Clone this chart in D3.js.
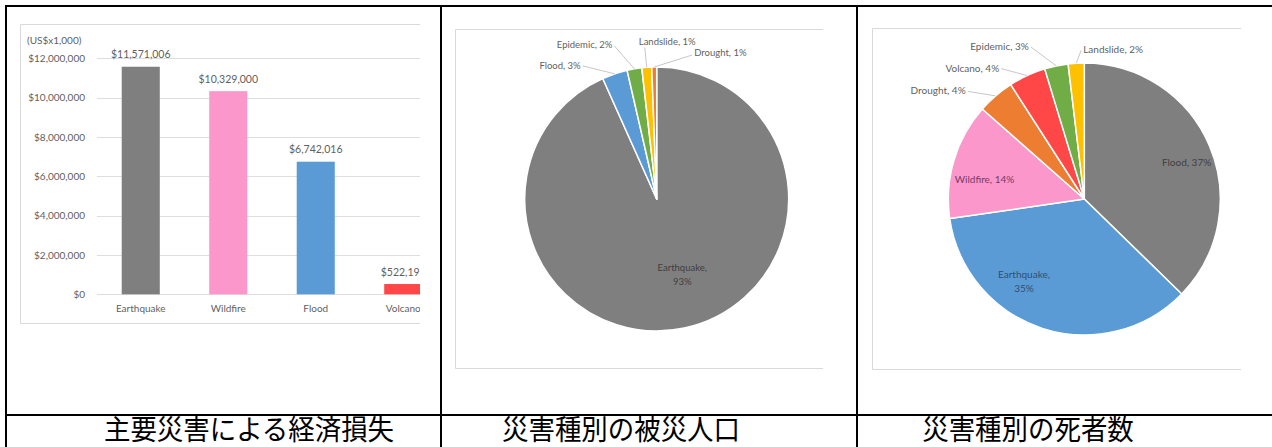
<!DOCTYPE html>
<html><head><meta charset="utf-8">
<script src="https://cdn.jsdelivr.net/npm/d3@7"></script>
<style>body{margin:0;background:#fff;} svg{display:block;}</style>
</head><body>
<svg id="c" width="1272" height="447"></svg>
<script>
// ---------- DATA ----------
const lossCategories = ["Earthquake", "Wildfire", "Flood", "Volcano"];
const lossValues = [11571006, 10329000, 6742016, 522195];
const lossTicks = [0, 2000000, 4000000, 6000000, 8000000, 10000000, 12000000];
const lossUnit = "(US$x1,000)";

const affectedCategories = ["Earthquake", "Flood", "Epidemic", "Landslide", "Drought"];
const affectedValues = [93.3, 3.1, 1.8, 1.2, 0.6];

const deathCategories = ["Flood", "Earthquake", "Wildfire", "Drought", "Volcano", "Epidemic", "Landslide"];
const deathValues = [37.3, 35.4, 13.8, 4.4, 4.4, 2.8, 1.9];

const captions = ["主要災害による経済損失", "災害種別の被災人口", "災害種別の死者数"];

// ---------- STYLE ----------
const colorOf = {
  Earthquake: "#7f7f7f", Wildfire: "#fb97cb", Flood: "#5b9bd5", Volcano: "#ff4747",
  Epidemic: "#70ad47", Landslide: "#ffc000", Drought: "#ed7d31"
};
const pieColors1 = {Earthquake: "#7f7f7f", Flood: "#5b9bd5", Epidemic: "#70ad47", Landslide: "#ffc000", Drought: "#ed7d31"};
const pieColors2 = {Flood: "#7f7f7f", Earthquake: "#5b9bd5", Wildfire: "#fb97cb", Drought: "#ed7d31", Volcano: "#ff4747", Epidemic: "#70ad47", Landslide: "#ffc000"};
const txt = "#5f5f5f";
const font = "Lato, 'Open Sans', sans-serif";

const svg = d3.select("#c");
const defs = svg.append("defs");

// ---------- TABLE ----------
const tbl = svg.append("g").attr("stroke", "#000").attr("stroke-width", 2);
tbl.append("line").attr("x1", 5).attr("x2", 1272).attr("y1", 6).attr("y2", 6);
tbl.append("line").attr("x1", 6).attr("x2", 6).attr("y1", 5).attr("y2", 447);
tbl.append("line").attr("x1", 441).attr("x2", 441).attr("y1", 5).attr("y2", 447);
tbl.append("line").attr("x1", 857).attr("x2", 857).attr("y1", 5).attr("y2", 447);
tbl.append("line").attr("x1", 5).attr("x2", 1272).attr("y1", 415).attr("y2", 415);

const capX = [249, 621, 1028];
svg.selectAll("text.cap").data(captions).join("text")
  .attr("class", "cap")
  .attr("transform", (d, i) => `translate(${capX[i]},440) scale(0.98,1.04)`)
  .attr("text-anchor", "middle")
  .attr("font-family", "'Noto Sans CJK JP', sans-serif")
  .attr("font-size", 27).attr("fill", "#000")
  .text(d => d);

// ---------- FRAME helper (right side cropped) ----------
function frame(x0, y0, x1, y1) {
  const g = svg.append("g").attr("stroke", "#d9d9d9").attr("fill", "none").attr("stroke-width", 1);
  g.append("path").attr("d", `M${x1},${y0}H${x0}V${y1}H${x1}`);
}

// ---------- BAR CHART ----------
(function () {
  frame(20.5, 24.5, 420, 323.5);
  defs.append("clipPath").attr("id", "clipBar").append("rect")
    .attr("x", 0).attr("y", 0).attr("width", 420).attr("height", 447);
  const g = svg.append("g").attr("clip-path", "url(#clipBar)").attr("font-family", font);

  const y = d3.scaleLinear().domain([0, 12000000]).range([294.3, 58.3]);
  const x = d3.scaleBand().domain(lossCategories).range([97, 447])
    .paddingInner(0.565).paddingOuter(0.2825);
  const fmt = d3.format("$,");

  g.append("g").selectAll("line").data(lossTicks).join("line")
    .attr("x1", 97).attr("x2", 447)
    .attr("y1", d => Math.round(y(d)) + 0.5).attr("y2", d => Math.round(y(d)) + 0.5)
    .attr("stroke", "#dedede").attr("stroke-width", 1);

  const ax = g.append("g").attr("transform", "translate(89,0)")
    .call(d3.axisLeft(y).tickValues(lossTicks).tickFormat(fmt).tickSize(0).tickPadding(4));
  ax.select(".domain").remove();
  ax.selectAll("text").attr("font-family", font).attr("font-size", 10).attr("fill", txt);

  g.append("text").attr("x", 27).attr("y", 44).attr("font-size", 10).attr("fill", txt).text(lossUnit);

  g.selectAll("rect.bar").data(lossCategories).join("rect")
    .attr("class", "bar")
    .attr("x", d => x(d)).attr("width", x.bandwidth())
    .attr("y", (d, i) => y(lossValues[i]))
    .attr("height", (d, i) => y(0) - y(lossValues[i]))
    .attr("fill", d => colorOf[d]);

  g.selectAll("text.val").data(lossCategories).join("text")
    .attr("class", "val")
    .attr("x", d => x(d) + x.bandwidth() / 2)
    .attr("y", (d, i) => y(lossValues[i]) - 8.5)
    .attr("text-anchor", "middle").attr("font-size", 10.5).attr("fill", txt)
    .text((d, i) => fmt(lossValues[i]));

  const xa = g.append("g").attr("transform", `translate(0,${y(0)})`)
    .call(d3.axisBottom(x).tickSize(0).tickPadding(11));
  xa.select(".domain").remove();
  xa.selectAll("text").attr("font-family", font).attr("font-size", 10).attr("fill", txt);
})();

// ---------- PIE helper ----------
function drawPie(opts) {
  const {cats, vals, colors, cx, cy, r, clipX, inside, outside, fs} = opts;
  const id = "clip" + Math.round(cx);
  defs.append("clipPath").attr("id", id).append("rect")
    .attr("x", 0).attr("y", 0).attr("width", clipX).attr("height", 447);
  const outer = svg.append("g").attr("clip-path", `url(#${id})`);
  const g = outer.append("g")
    .attr("transform", `translate(${cx},${cy})`).attr("font-family", font);
  const pie = d3.pie().sort(null).value(d => d);
  const arcs = pie(vals);
  const arc = d3.arc().innerRadius(0).outerRadius(r);
  const edge = d3.arc().innerRadius(r).outerRadius(r);

  g.selectAll("path.sl").data(arcs).join("path")
    .attr("class", "sl")
    .attr("d", arc)
    .attr("fill", (d, i) => colors[cats[i]])
    .attr("stroke", "#fff").attr("stroke-width", 1.5).attr("stroke-linejoin", "round");

  const pct = v => Math.round(v) + "%";

  arcs.forEach((a, i) => {
    const name = cats[i];
    if (inside[name]) {
      const L = inside[name];
      const c = d3.arc().innerRadius(r * L.k).outerRadius(r * L.k).centroid(a);
      const t = g.append("text")
        .attr("x", c[0] + (L.dx || 0)).attr("y", c[1] + (L.dy || 0))
        .attr("text-anchor", "middle").attr("font-size", fs).attr("fill", L.fill);
      if (L.wrap) {
        t.append("tspan").attr("x", c[0] + (L.dx || 0)).attr("dy", 0).text(name + ",");
        t.append("tspan").attr("x", c[0] + (L.dx || 0)).attr("dy", 13.5).text(pct(vals[i]));
      } else {
        t.text(name + ", " + pct(vals[i]));
      }
    } else if (outside[name]) {
      const L = outside[name];
      const p = edge.centroid(a);
      const k = [p[0] + L.kx, p[1] + L.ky];
      g.append("polyline")
        .attr("points", [k, p].map(q => q.join(",")).join(" "))
        .attr("fill", "none").attr("stroke", "#c8c8c8").attr("stroke-width", 1);
      g.append("text")
        .attr("x", k[0] + L.tx).attr("y", k[1] + L.ty)
        .attr("text-anchor", L.anchor).attr("font-size", fs).attr("fill", txt)
        .text(name + ", " + pct(vals[i]));
    }
  });
}

// ---------- PIE 1 ----------
frame(455.5, 29.5, 823, 368.5);
drawPie({
  cats: affectedCategories, vals: affectedValues, colors: pieColors1,
  cx: 656.7, cy: 199, r: 132, clipX: 823, fs: 9.5,
  inside: {Earthquake: {k: 0.6, dx: 9, dy: -5, wrap: true, fill: "#404040"}},
  outside: {
    Flood: {kx: -32, ky: -8, tx: -2, ty: 3, anchor: "end"},
    Epidemic: {kx: -20, ky: -23, tx: -2, ty: 2, anchor: "end"},
    Landslide: {kx: -2, ky: -20, tx: -6, ty: -2, anchor: "start"},
    Drought: {kx: 38, ky: -12, tx: 2, ty: 1, anchor: "start"}
  }
});

// ---------- PIE 2 ----------
frame(872.5, 28.5, 1241, 369.5);
drawPie({
  cats: deathCategories, vals: deathValues, colors: pieColors2,
  cx: 1084.3, cy: 199, r: 136, clipX: 1241, fs: 10,
  inside: {
    Flood: {k: 0.8, dx: 2, dy: 9, fill: "#404040"},
    Earthquake: {k: 0.745, dx: -29, dy: -17, wrap: true, fill: "#2e4f73"},
    Wildfire: {k: 0.75, dx: -2, dy: 13, fill: "#7a3a62"}
  },
  outside: {
    Drought: {kx: -28, ky: -4.5, tx: -2, ty: 3, anchor: "end"},
    Volcano: {kx: -26, ky: -7, tx: -2, ty: 3, anchor: "end"},
    Epidemic: {kx: -25.5, ky: -19, tx: -2, ty: 3, anchor: "end"},
    Landslide: {kx: 5, ky: -13, tx: 2, ty: 3, anchor: "start"}
  }
});
</script>
</body></html>
